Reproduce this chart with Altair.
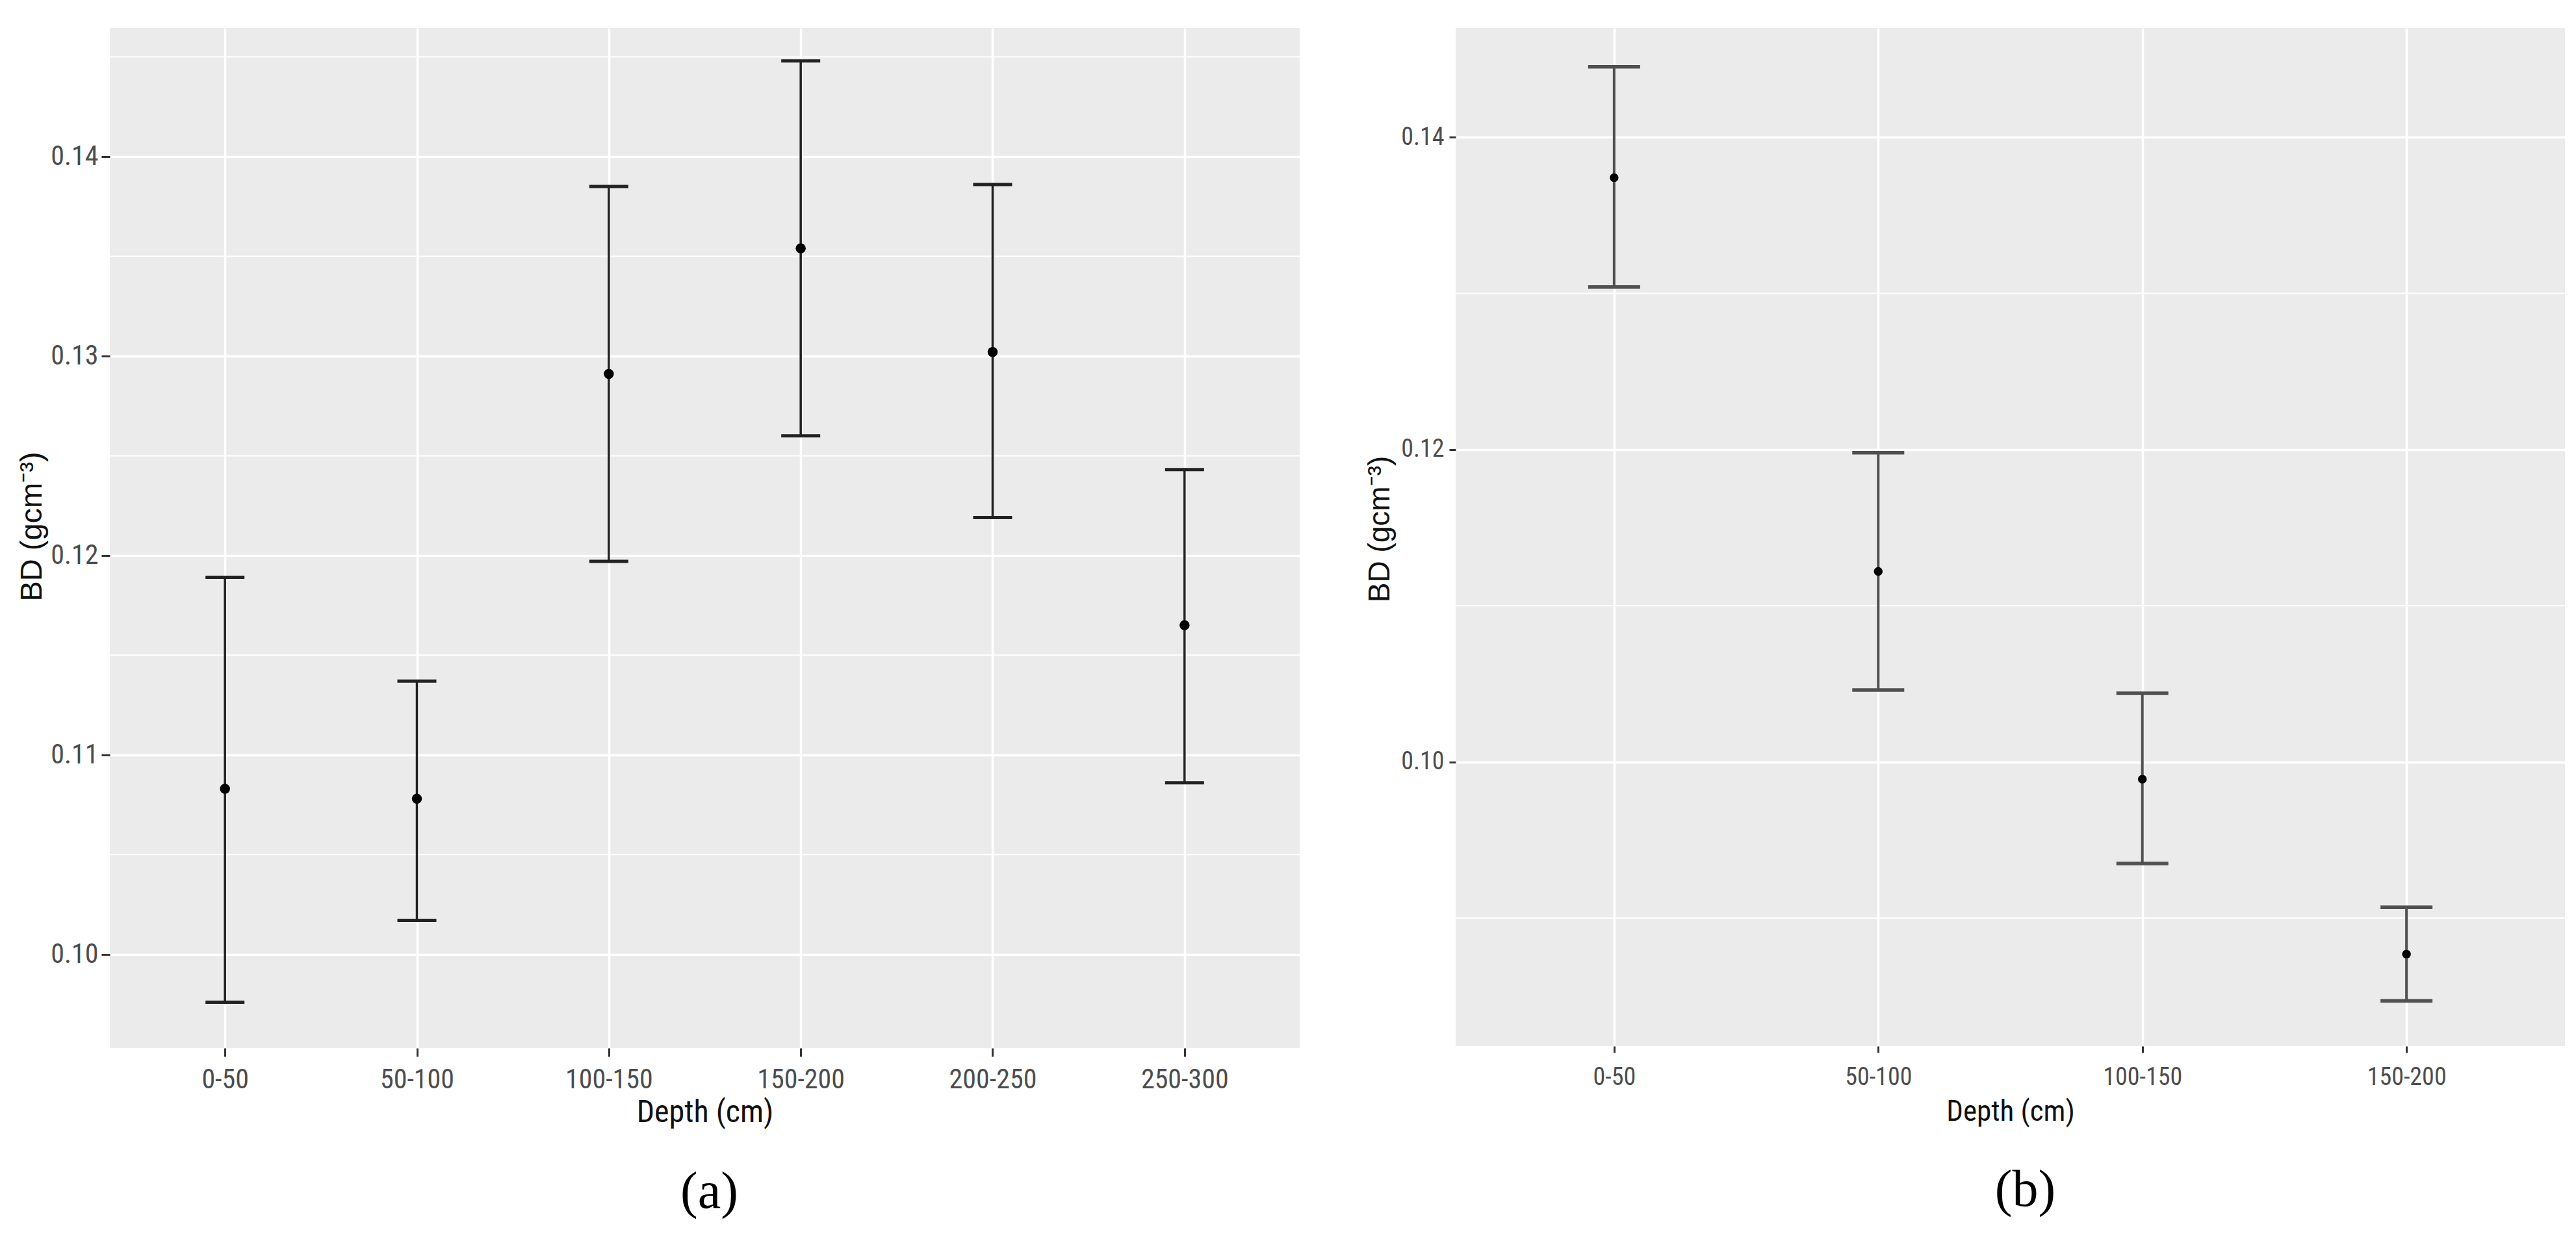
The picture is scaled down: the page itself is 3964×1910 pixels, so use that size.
import altair as alt
import pandas as pd

# ---------------- data ----------------
A_CATS = ["0-50", "50-100", "100-150", "150-200", "200-250", "250-300"]
A_MEAN = [0.1083, 0.1078, 0.1291, 0.1354, 0.1302, 0.1165]
A_LOW = [0.0976, 0.1017, 0.1197, 0.1260, 0.1219, 0.1086]
A_HIGH = [0.1189, 0.1137, 0.1385, 0.1448, 0.1386, 0.1243]
A_TICKS = [0.10, 0.11, 0.12, 0.13, 0.14]
A_MINOR = [0.105, 0.115, 0.125, 0.135, 0.145]
A_DOMAIN = [0.0953, 0.14645]

B_CATS = ["0-50", "50-100", "100-150", "150-200"]
B_MEAN = [0.1374, 0.1122, 0.0989, 0.0877]
B_LOW = [0.1304, 0.1046, 0.0935, 0.0847]
B_HIGH = [0.1445, 0.1198, 0.1044, 0.0907]
B_TICKS = [0.10, 0.12, 0.14]
B_MINOR = [0.09, 0.11, 0.13]
B_DOMAIN = [0.08181, 0.14699]

X_TITLE = "Depth (cm)"
Y_TITLE = "BD (gcm\u207b\u00b3)"

NARROW = ("Roboto Condensed, DejaVu Sans Condensed, Liberation Sans Narrow, "
          "Arial Narrow, Liberation Sans, Arial, sans-serif")
SANS = "Liberation Sans, Arial, sans-serif"
SERIF = "Palatino Linotype, Book Antiqua, Palatino, Liberation Serif, serif"


def panel(cats, mean, low, high, ticks, minor, domain, w, h, s):
    df = pd.DataFrame({"depth": cats, "bd": mean, "lo": low, "hi": high})
    mdf = pd.DataFrame({"v": minor})

    xaxis = alt.Axis(
        title=X_TITLE, labelAngle=0, labelFont=NARROW, labelFontSize=s["lab_fs"],
        labelColor="#4D4D4D", labelBaseline="alphabetic", labelPadding=s["xlab_pad"],
        titleFont=NARROW, titleFontSize=s["xt_fs"], titleColor="#111111",
        titleFontWeight="normal", titleBaseline="alphabetic", titleY=s["xt_y"],
        tickSize=s["tick"], tickColor="#333333", tickWidth=3, domain=False,
        grid=True, gridColor="white", gridWidth=3.5,
    )
    yaxis = alt.Axis(
        title=Y_TITLE, values=ticks, format=".2f", labelFont=NARROW,
        labelFontSize=s["lab_fs"], labelColor="#4D4D4D", labelPadding=s["ylab_pad"],
        titleFont=SANS, titleFontSize=s["yt_fs"], titleColor="#111111",
        titleFontWeight="normal", titleBaseline="alphabetic",
        titleX=s["yt_x"], titleY=s["yt_y"],
        tickSize=s["tick"], tickColor="#333333", tickWidth=3, domain=False,
        grid=True, gridColor="white", gridWidth=3.5,
    )
    xs = alt.Scale(type="point", padding=0.6, domain=cats)
    ys = alt.Scale(domain=domain, nice=False, zero=False)
    X = alt.X("depth:N", sort=cats, scale=xs, axis=xaxis)

    minor_grid = alt.Chart(mdf).mark_rule(color="white", strokeWidth=2).encode(
        y=alt.Y("v:Q", scale=ys, axis=yaxis)
    )
    stems = alt.Chart(df).mark_rule(color=s["col"], strokeWidth=s["stem_w"]).encode(
        x=X, y=alt.Y("lo:Q", scale=ys, axis=yaxis), y2="hi:Q"
    )
    cap_lo = alt.Chart(df).mark_tick(
        color=s["col"], thickness=s["cap_t"], size=s["cap_w"], opacity=1
    ).encode(x=X, y=alt.Y("lo:Q", scale=ys, axis=yaxis))
    cap_hi = alt.Chart(df).mark_tick(
        color=s["col"], thickness=s["cap_t"], size=s["cap_w"], opacity=1
    ).encode(x=X, y=alt.Y("hi:Q", scale=ys, axis=yaxis))
    pts = alt.Chart(df).mark_point(
        filled=True, color="black", size=s["pt"], opacity=1
    ).encode(x=X, y=alt.Y("bd:Q", scale=ys, axis=yaxis))

    return alt.layer(minor_grid, stems, cap_lo, cap_hi, pts).properties(
        width=w, height=h,
        title=alt.TitleParams(
            text=s["label"], orient="bottom", anchor="middle", frame="group",
            font=SERIF, fontSize=80, fontWeight="normal", color="black",
            offset=s["lab_off"], dx=s["lab_dx"],
        ),
    )


left = panel(
    A_CATS, A_MEAN, A_LOW, A_HIGH, A_TICKS, A_MINOR, A_DOMAIN, 1831, 1570,
    dict(lab_fs=42, xt_fs=48, yt_fs=47, tick=13, xlab_pad=48, ylab_pad=5,
         xt_y=113, yt_x=-106, yt_y=767, col="#222222", stem_w=3.5, cap_t=5,
         cap_w=60, pt=240, label="(a)", lab_off=60, lab_dx=7),
)
right = panel(
    B_CATS, B_MEAN, B_LOW, B_HIGH, B_TICKS, B_MINOR, B_DOMAIN, 1707, 1567,
    dict(lab_fs=38, xt_fs=45, yt_fs=46, tick=10, xlab_pad=49, ylab_pad=8,
         xt_y=114, yt_x=-103, yt_y=771, col="#505050", stem_w=4, cap_t=5.5,
         cap_w=80, pt=180, label="(b)", lab_off=60, lab_dx=23),
)

chart = alt.hconcat(left, right, spacing=99).properties(
    padding={"left": 17, "top": 35, "right": 5, "bottom": 5},
    background="white",
).configure_view(fill="#EBEBEB", strokeWidth=0)

chart.save("out.html", embed_options={"renderer": "svg", "actions": False})
